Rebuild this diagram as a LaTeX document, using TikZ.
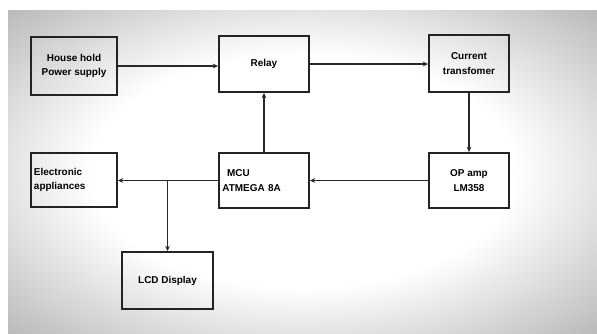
\documentclass[tikz,border=0pt]{standalone}
\usepackage{fontspec}
\setmainfont{Liberation Sans}
\usepackage{xcolor}
\definecolor{boxline}{RGB}{35,35,35}
\definecolor{wireline}{RGB}{40,40,40}
\usepackage{tikz}
\usetikzlibrary{arrows.meta, positioning, calc}
\pgfdeclareradialshading{vignette}{\pgfpoint{0bp}{0bp}}{color(0bp)=(white); color(18bp)=(white); color(50bp)=(black!50); color(71bp)=(black!85)}

\tikzset{
  blockbox/.style={draw=boxline, line width=1.6pt, inner sep=2pt, font=\fontsize{8.5}{12.5}\selectfont\bfseries},
  wire/.style={wireline, line width=1.3pt, -{Stealth[length=4.5pt, width=4pt]}}
}

\begin{document}
\begin{tikzpicture}[x=0.03cm, y=-0.03cm]
  \useasboundingbox (0,0) rectangle (597,333);
  % Background with vignette
  \fill[white] (0,0) rectangle (597,333);
  \shade[shading=vignette] (8,10) rectangle (597,333);

  % --- Top row ---
  \node[blockbox, minimum width=2.58cm, minimum height=1.74cm, align=center] (house) at (74,66) {House hold\\Power supply};
  \node[blockbox, minimum width=2.7cm, minimum height=1.68cm, align=center] (relay) at (264,64) {Relay};
  \node[blockbox, minimum width=2.4cm, minimum height=1.71cm, align=center] (ct) at (469,63.5) {Current\\transfomer};

  % --- Middle row ---
  \node[blockbox, minimum width=2.58cm, minimum height=1.62cm, text width=2.4cm, align=left] (elec) at (74,180) {Electronic\\appliances};
  \node[blockbox, minimum width=2.7cm, minimum height=1.65cm, text width=2.5cm, align=left] (mcu) at (264,180.5) {\hspace{4pt}MCU\\ATMEGA 8A};
  \node[blockbox, minimum width=2.4cm, minimum height=1.65cm, align=center] (opamp) at (469,180.5) {OP amp\\LM358};

  % --- Bottom ---
  \node[blockbox, minimum width=2.73cm, minimum height=1.71cm, align=center] (lcd) at (167.5,280.5) {LCD Display};

  % Connections
  \draw[wire] (house.east) -- (house.east -| relay.west);
  \draw[wire] (relay.east) -- (relay.east -| ct.west);
  \draw[wire] (ct.south) -- (opamp.north);
  \draw[wire] (opamp.west) -- (mcu.east);
  \draw[wire] (mcu.north) -- (relay.south);
  \draw[wire] (mcu.west) -- (mcu.west -| elec.east);
  \coordinate (split) at (mcu.west -| lcd.north);
  \draw[wire] (split) -- (lcd.north);
\end{tikzpicture}
\end{document}
